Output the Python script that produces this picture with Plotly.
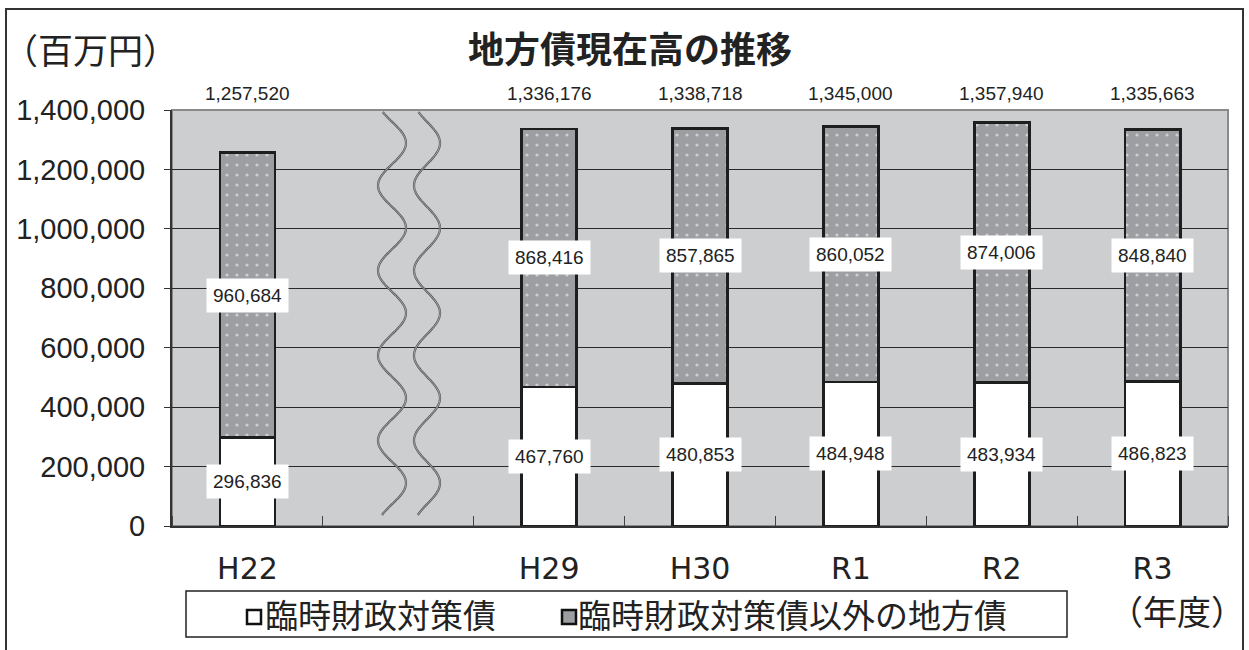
import numpy as np
import plotly.graph_objects as go

# ---- data ----
categories = ["H22", "H29", "H30", "R1", "R2", "R3"]
cat_pos = [0, 2, 3, 4, 5, 6]          # slot 1 is the axis break
rinji = [296836, 467760, 480853, 484948, 483934, 486823]
other = [960684, 868416, 857865, 860052, 874006, 848840]
totals = [1257520, 1336176, 1338718, 1345000, 1357940, 1335663]
y_ticks = [0, 200000, 400000, 600000, 800000, 1000000, 1200000, 1400000]
y_tick_labels = ["0", "200,000", "400,000", "600,000", "800,000",
                 "1,000,000", "1,200,000", "1,400,000"]
series_names = ["臨時財政対策債", "臨時財政対策債以外の地方債"]

W, H = 1249, 650
SX0, SX1, SY0, SY1 = 172, 1228, 110, 526
ML = SX0
MT = SY0
MR = W - SX1
MB = H - SY1
YMAX = 1400000
NUM_FONT = "Liberation Sans, Arial, Noto Sans CJK JP"
JP_FONT = "Noto Sans CJK JP, Liberation Sans"
GRAY = "#9d9ea2"

plot_w = SX1 - SX0
plot_h = SY1 - SY0
def pxx(px):      # screen pixel x -> paper x
    return (px - SX0) / plot_w
def pxy(py):      # screen pixel y -> paper y
    return (SY1 - py) / plot_h

fig = go.Figure()
fig.add_trace(go.Bar(
    x=cat_pos, y=rinji, name=series_names[0], width=0.365,
    marker=dict(color="white", line=dict(color="#1e1e1e", width=2.8)),
))
fig.add_trace(go.Bar(
    x=cat_pos, y=other, name=series_names[1], width=0.365,
    marker=dict(color=GRAY, line=dict(color="#1e1e1e", width=2.8),
                pattern=dict(shape=".", fgcolor="white", bgcolor=GRAY,
                             size=10, solidity=0.08)),
))

annotations = []
fmt = lambda v: f"{v:,}"
for xp, lo, up, tot in zip(cat_pos, rinji, other, totals):
    annotations.append(dict(x=xp, y=lo / 2, text=fmt(lo), showarrow=False,
                            bgcolor="white", borderpad=6,
                            font=dict(size=19, color="#222", family=NUM_FONT)))
    annotations.append(dict(x=xp, y=lo + up / 2, text=fmt(up), showarrow=False,
                            bgcolor="white", borderpad=6,
                            font=dict(size=19, color="#222", family=NUM_FONT)))
    annotations.append(dict(x=xp, y=YMAX, yshift=17, text=fmt(tot), showarrow=False,
                            yanchor="middle",
                            font=dict(size=19, color="#222", family=NUM_FONT)))

# title and unit labels
annotations.append(dict(xref="paper", yref="paper", x=pxx(630), y=pxy(47),
                        text="<b>地方債現在高の推移</b>", showarrow=False,
                        xanchor="center", yanchor="middle",
                        font=dict(size=36, color="#222", family=JP_FONT)))
annotations.append(dict(xref="paper", yref="paper", x=pxx(1), y=pxy(48),
                        text="（百万円）", showarrow=False, xanchor="left", yanchor="middle",
                        font=dict(size=35, color="#222", family=JP_FONT)))
annotations.append(dict(xref="paper", yref="paper", x=pxx(1247), y=pxy(610),
                        text="（年度）", showarrow=False, xanchor="right", yanchor="middle",
                        font=dict(size=34, color="#222", family=JP_FONT)))

# manual legend
annotations.append(dict(xref="paper", yref="paper", x=pxx(263), y=pxy(614),
                        text=series_names[0], showarrow=False, xanchor="left",
                        yanchor="middle", font=dict(size=33, color="#222", family=JP_FONT)))
annotations.append(dict(xref="paper", yref="paper", x=pxx(576), y=pxy(614),
                        text=series_names[1], showarrow=False, xanchor="left",
                        yanchor="middle", font=dict(size=33, color="#222", family=JP_FONT)))

shapes = []
shapes.append(dict(type="rect", xref="paper", yref="paper",
                   x0=pxx(186), x1=pxx(1067), y0=pxy(637), y1=pxy(591),
                   line=dict(color="#222", width=1.5), fillcolor="white"))
shapes.append(dict(type="rect", xref="paper", yref="paper",
                   x0=pxx(247), x1=pxx(261), y0=pxy(624), y1=pxy(610),
                   line=dict(color="#111", width=2.5), fillcolor="white"))
shapes.append(dict(type="rect", xref="paper", yref="paper",
                   x0=pxx(562), x1=pxx(576), y0=pxy(624), y1=pxy(610),
                   line=dict(color="#111", width=2.5), fillcolor=GRAY))

# axis-break wavy lines (decoration) in the empty slot
slot_px = plot_w / 7.0
def px_to_x(px):
    return (px - SX0) / slot_px - 0.5
def px_to_y(py):
    return (SY1 - py) / plot_h * YMAX

ys = np.linspace(112, 515, 240)
for cx, amp in [(392, 14), (427, 13)]:
    xs = cx + amp * np.sin(2 * np.pi * (ys - 121.75) / 85.0)
    path = "M " + " L ".join(f"{px_to_x(a):.5f},{px_to_y(b):.1f}" for a, b in zip(xs, ys))
    shapes.append(dict(type="path", path=path, xref="x", yref="y",
                       line=dict(color="#555", width=2.2)))
    shapes.append(dict(type="path", path=path, xref="x", yref="y",
                       line=dict(color="#bdbdbd", width=0.8)))

# plot-area border
shapes.append(dict(type="rect", xref="paper", yref="paper", x0=0, y0=0, x1=1, y1=1,
                   line=dict(color="#8a8a8a", width=2), layer="below"))
# outer frame
shapes.append(dict(type="rect", xref="paper", yref="paper",
                   x0=pxx(6), x1=pxx(1243), y0=pxy(680), y1=pxy(9),
                   line=dict(color="#333", width=2)))

fig.update_layout(
    width=W, height=H, autosize=False,
    margin=dict(l=ML, r=MR, t=MT, b=MB, autoexpand=False),
    barmode="stack",
    paper_bgcolor="white",
    plot_bgcolor="#cdced0",
    showlegend=False,
    hovermode=False,
    annotations=annotations,
    shapes=shapes,
)
fig.update_xaxes(
    range=[-0.5, 6.5], tickmode="array", tickvals=cat_pos, ticktext=categories,
    tickfont=dict(size=30, color="#222", family="DejaVu Sans, Liberation Sans"),
    showgrid=False, zeroline=False, showline=True, linecolor="#333", linewidth=2,
    ticks="", ticklabelstandoff=15,
    minor=dict(tickmode="linear", tick0=0.5, dtick=1, ticks="inside", ticklen=10,
               tickcolor="#444", showgrid=False),
)
fig.update_yaxes(
    range=[0, YMAX], tickmode="array", tickvals=y_ticks, ticktext=y_tick_labels,
    tickfont=dict(size=29, color="#222", family=NUM_FONT),
    showgrid=True, gridcolor="#2a2a2a", gridwidth=1, zeroline=False,
    showline=True, linecolor="#333", linewidth=2,
    ticks="outside", ticklen=6, tickcolor="#333", ticklabelstandoff=13,
)

fig.write_html("out.html",
               config={"displayModeBar": False},
               post_script="document.body.style.margin='0';"
                           "document.body.style.overflow='hidden';")
